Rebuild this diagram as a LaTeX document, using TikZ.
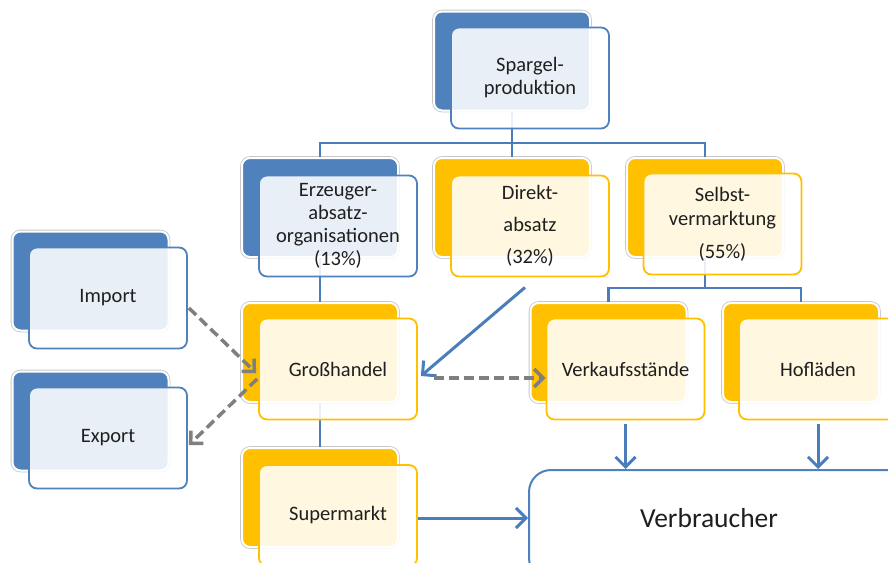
\documentclass[tikz,border=0pt]{standalone}
\usepackage{fontspec}
\setmainfont{Carlito}
\usetikzlibrary{arrows.meta,calc}
\definecolor{bblue}{HTML}{4F81BD}
\definecolor{lblue}{HTML}{4A7EBB}
\definecolor{gold}{HTML}{FFC000}
\definecolor{dgray}{HTML}{7F7F7F}
\definecolor{txt}{HTML}{1F1F1F}
\begin{document}
\begin{tikzpicture}[x=1pt,y=-1pt,
  back/.style={rectangle, rounded corners=8pt, minimum width=156pt, minimum height=99pt, inner sep=0pt, draw=white, line width=2pt, preaction={draw=black!22, line width=3.6pt}},
  bback/.style={back, fill=bblue},
  yback/.style={back, fill=gold},
  front/.style={rectangle, rounded corners=8pt, minimum width=158pt, minimum height=101pt, inner sep=0pt, fill=white, fill opacity=0.88, text opacity=1, line width=1.8pt, align=center, font=\fontsize{20.5}{23}\selectfont, text=txt},
  bfront/.style={front, draw=bblue},
  yfront/.style={front, draw=gold},
  tree/.style={draw=lblue, line width=2.2pt},
  barrow/.style={draw=lblue, line width=3pt, -{Straight Barb[length=10pt,width=20pt]}},
  garrow/.style={draw=dgray, line width=3.5pt, dash pattern=on 10pt off 5pt, -{Straight Barb[length=9pt,width=18pt]}},
  vbox/.style={rectangle, rounded corners=22pt, minimum width=400pt, minimum height=110pt, draw=bblue, line width=2pt, fill=white},
]
\useasboundingbox (0,0) rectangle (888,562);
\fill[white] (0,0) rectangle (888,562);

% back boxes
\node[bback] (spB) at (512,61) {};
\node[bback] (ezB) at (320,207.5) {};
\node[yback] (daB) at (512,207.5) {};
\node[yback] (svB) at (705,207.5) {};
\node[bback] (imB) at (90.5,281) {};
\node[bback] (exB) at (90.5,421) {};
\node[yback] (ghB) at (320,352.5) {};
\node[yback] (smB) at (320,497.5) {};
\node[yback] (vkB) at (608.5,352.5) {};
\node[yback] (hlB) at (801,352.5) {};

% tree lines
\coordinate (bus1) at (512,143);
\coordinate (bus2) at (705,288);
\draw[tree] (spB.south) -- (daB.north);
\draw[tree] (ezB.north) |- (bus1) -| (svB.north);
\draw[tree] (svB.south) -- (bus2);
\draw[tree] (vkB.north) |- (bus2) -| (hlB.north);
\draw[tree] (ezB.south) -- (ghB.north);
\draw[tree] (ghB.south) -- (smB.north);

% front boxes
\node[bfront] (spF) at (530,78) {Spargel-\\produktion};
\node[bfront] (ezF) at (338,226) {Erzeuger-\\absatz-\\organisationen\\(13\%)};
\node[yfront] (daF) at (530,226) {Direkt-\\[9pt]absatz\\[9pt](32\%)};
\node[yfront] (svF) at (722.5,224) {Selbst-\\[1pt]vermarktung\\[10pt](55\%)};
\node[bfront] (imF) at (108,298) {Import};
\node[bfront] (exF) at (108,438) {Export};
\node[yfront] (ghF) at (338,369) {Großhandel};
\node[yfront] (smF) at (338,515.5) {Supermarkt};
\node[yfront] (vkF) at (625.5,369) {Verkaufsstände};
\node[yfront] (hlF) at (818,369) {Hofläden};

% consumer
\node[vbox] (vb) at (729,525) {};
\node[font=\fontsize{27.5}{30}\selectfont, text=txt] (vbt) at (709,518) {Verbraucher};

% arrows
\draw[barrow] ($(daF.south)+(-5,10)$) -- ($(ghF.east)+(3,7)$);
\draw[garrow] ($(imF.east)+(1,10)$) -- ($(ghF.west)+(-2,4)$);
\draw[garrow] ($(ghF.west)+(-1,10)$) -- ($(exF.east)+(1,7)$);
\draw[garrow] ($(ghF.east)+(16,9)$) -- ($(vkF.west)+(0,9)$);
\draw[barrow, shorten <=4pt] (vkF.south) -- (vkF.south |- vb.north);
\draw[barrow, shorten <=4pt] (hlF.south) -- (hlF.south |- vb.north);
\draw[barrow] ($(smF.east)+(0,2.5)$) -- ($(smF.east -| vb.west)+(0,2.5)$);
\end{tikzpicture}
\end{document}
